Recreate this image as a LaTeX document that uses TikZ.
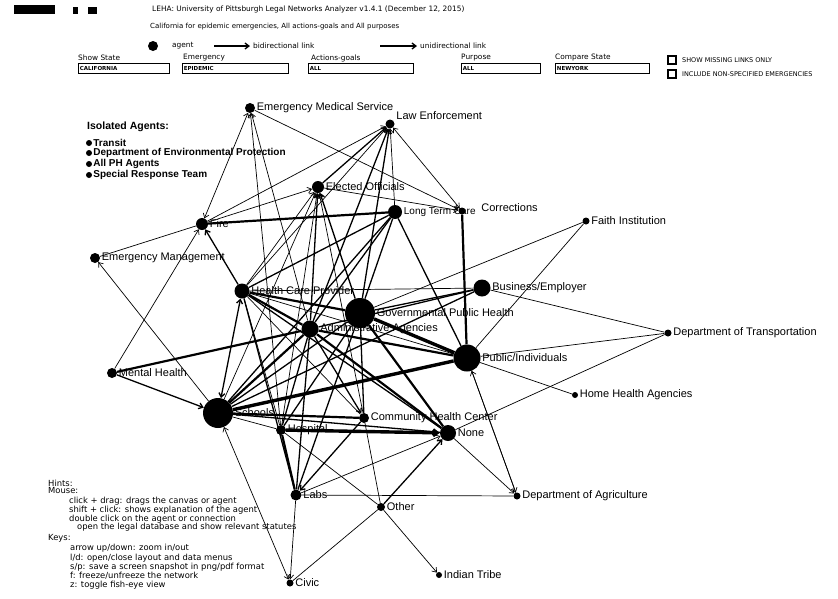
\documentclass[tikz,border=0pt]{standalone}
\usepackage{fontspec}
\setmainfont{Liberation Sans}
\newfontfamily\uifont{DejaVu Sans}
\usetikzlibrary{arrows.meta, backgrounds}

\begin{document}
\begin{tikzpicture}[x=1pt, y=-1pt, >={Straight Barb[length=4pt, width=6pt]},
  agent/.style={circle, fill=black, inner sep=0pt, minimum size=#1},
  tag/.style={font=\fontsize{11}{12}\selectfont, inner sep=1.5pt},
  iso/.style={font=\bfseries\fontsize{10}{10}\selectfont, inner sep=1pt},
  head/.style={font=\uifont\fontsize{7.4}{8}\selectfont, anchor=west, inner sep=0pt},
  hint/.style={font=\uifont\fontsize{8.4}{9}\selectfont, anchor=west, inner sep=0pt},
  menu/.style={draw, line width=0.8pt, anchor=west, inner sep=1.5pt, minimum height=10pt,
    text width=#1, align=left, font=\uifont\bfseries\fontsize{5.5}{6}\selectfont},
  checkbox/.style={draw, fill=white, line width=2pt, minimum size=7.5pt, inner sep=0pt},
  link/.style={line width=0.7pt},
  mlink/.style={line width=1.3pt},
  tlink/.style={line width=2.2pt},
  hlink/.style={line width=3.4pt}]
\useasboundingbox (0,0) rectangle (838,598);

% header
\node[fill=black, minimum width=41pt, minimum height=9pt, inner sep=0pt] (btnopt) at (34,9) {};
\node[fill=black, minimum width=5pt, minimum height=7pt, inner sep=0pt] (btnloada) at (75,10) {};
\node[fill=black, minimum width=9pt, minimum height=7pt, inner sep=0pt] (btnloadb) at (92,10) {};
\node[head] (title) at (152,9) {LEHA: University of Pittsburgh Legal Networks Analyzer v1.4.1 (December 12, 2015)};
\node[head, font=\uifont\fontsize{7}{8}\selectfont] (subtitle) at (150,27) {California for epidemic emergencies, All actions-goals and All purposes};

% legend
\node[agent=10pt] (keydot) at (153,46) {};
\node[head] (keyagent) at (172,46) {agent};
\coordinate (bistart) at (214,46);
\coordinate (biend) at (250,46);
\draw[mlink, ->] (bistart) -- (biend);
\node[head] (keybi) at (253,46) {bidirectional link};
\coordinate (unistart) at (380,46);
\coordinate (uniend) at (417,46);
\draw[mlink, ->] (unistart) -- (uniend);
\node[head] (keyuni) at (420,46) {unidirectional link};

% menus
\node[head] (hstate) at (78,58) {Show State};
\node[head] (hemerg) at (183,58) {Emergency};
\node[head] (hactions) at (311,58) {Actions-goals};
\node[head] (hpurpose) at (461,58) {Purpose};
\node[head] (hcompare) at (555,58) {Compare State};
\node[menu=88pt] (mstate) at (78,68) {CALIFORNIA};
\node[menu=103pt] (memerg) at (182,68) {EPIDEMIC};
\node[menu=102pt] (mactions) at (308,68) {ALL};
\node[menu=76pt] (mpurpose) at (461,68) {ALL};
\node[menu=91pt] (mcompare) at (555,68) {NEWYORK};
\node[checkbox] (cbmissing) at (672,60) {};
\node[head, font=\uifont\fontsize{6.5}{7}\selectfont] (tmissing) at (682,60) {SHOW MISSING LINKS ONLY};
\node[checkbox] (cbinclude) at (672,74) {};
\node[head, font=\uifont\fontsize{6.5}{7}\selectfont] (tinclude) at (682,74) {INCLUDE NON-SPECIFIED EMERGENCIES};

% isolated agents
\node[iso, anchor=west, font=\bfseries\fontsize{10.5}{11}\selectfont] (isotitle) at (86,127) {Isolated Agents:};
\node[agent=6pt, label={[iso]right:Transit}] (transit) at (89,143) {};
\node[agent=6pt, label={[iso]right:Department of Environmental Protection}] (envprot) at (89,153) {};
\node[agent=6pt, label={[iso]right:All PH Agents}] (allph) at (89,164) {};
\node[agent=6pt, label={[iso]right:Special Response Team}] (special) at (89,175) {};

% agents
\node[agent=10pt, label={[tag]right:Emergency Medical Service}] (ems) at (250,108) {};
\node[agent=9pt, label={[tag, yshift=8pt]right:Law Enforcement}] (law) at (390,124) {};
\node[agent=12pt, label={[tag]right:Elected Officials}] (elect) at (318,187) {};
\node[agent=14pt, label={[tag, font=\fontsize{10}{11}\selectfont]right:Long Term Care}] (ltc) at (395,212) {};
\node[agent=7pt, label={[tag, xshift=14pt, yshift=3pt]right:Corrections}] (corr) at (462,211) {};
\node[agent=12pt, label={[tag]right:Fire}] (fire) at (202,224) {};
\node[agent=10pt, label={[tag]right:Emergency Management}] (emgt) at (95,258) {};
\node[agent=7pt, label={[tag]right:Faith Institution}] (faith) at (586,221) {};
\node[agent=15pt, label={[tag]right:Health Care Provider}] (hcp) at (242,291) {};
\node[agent=30pt, label={[tag]right:Governmental Public Health}] (gph) at (360,313) {};
\node[agent=17pt, label={[tag]right:Administrative Agencies}] (admin) at (310,329) {};
\node[agent=17pt, label={[tag]right:Business/Employer}] (biz) at (482,288) {};
\node[agent=7pt, label={[tag]right:Department of Transportation}] (dot) at (668,333) {};
\node[agent=27pt, label={[tag]right:Public/Individuals}] (pub) at (467,358) {};
\node[agent=10pt, label={[tag]right:Mental Health}] (mental) at (112,373) {};
\node[agent=6pt, label={[tag]right:Home Health Agencies}] (home) at (575,395) {};
\node[agent=30pt, label={[tag]right:Schools}] (school) at (218,413) {};
\node[agent=10pt, label={[tag]right:Hospital}] (hosp) at (281,430) {};
\node[agent=10pt, label={[tag]right:Community Health Center}] (chc) at (364,418) {};
\node[agent=16pt, label={[tag]right:None}] (none) at (448,433) {};
\node[agent=11pt, label={[tag]right:Labs}] (labs) at (296,495) {};
\node[agent=8pt, label={[tag]right:Other}] (other) at (381,507) {};
\node[agent=7pt, label={[tag]right:Department of Agriculture}] (agri) at (517,496) {};
\node[agent=7pt, label={[tag]right:Civic}] (civic) at (290,583) {};
\node[agent=6pt, label={[tag]right:Indian Tribe}] (tribe) at (439,575) {};

% links
\begin{pgfonlayer}{background}
\draw[link, <->] (fire) -- (ems);
\draw[link, ->] (fire) -- (law);
\draw[link, ->] (ems) -- (corr);
\draw[link, ->] (hosp) -- (ems);
\draw[link, ->] (admin) -- (ems);
\draw[link, <->] (law) -- (corr);
\draw[mlink, ->] (elect) -- (law);
\draw[mlink, ->] (gph) -- (law);
\draw[mlink, ->] (admin) -- (law);
\draw[link, ->] (ltc) -- (law);
\draw[link, ->] (hcp) -- (law);
\draw[link, ->] (fire) -- (elect);
\draw[link, ->] (elect) -- (corr);
\draw[tlink] (fire) -- (ltc);
\draw[link] (emgt) -- (fire);
\draw[link, ->] (mental) -- (fire);
\draw[mlink, ->] (hcp) -- (fire);
\draw[link, ->] (school) -- (emgt);
\draw[mlink, ->] (mental) -- (school);
\draw[tlink] (mental) -- (admin);
\draw[mlink, <->] (hcp) -- (school);
\draw[link, ->] (school) -- (elect);
\draw[link, ->] (hcp) -- (elect);
\draw[mlink, ->] (admin) -- (elect);
\draw[mlink, ->] (gph) -- (elect);
\draw[link, ->] (hosp) -- (elect);
\draw[link, ->] (chc) -- (elect);
\draw[tlink] (hcp) -- (gph);
\draw[tlink] (hcp) -- (admin);
\draw[link] (hcp) -- (biz);
\draw[link] (hcp) -- (chc);
\draw[mlink] (hcp) -- (none);
\draw[link] (hcp) -- (pub);
\draw[mlink] (hcp) -- (labs);
\draw[link] (hcp) -- (hosp);
\draw[mlink] (ltc) -- (hcp);
\draw[mlink] (ltc) -- (school);
\draw[mlink] (ltc) -- (admin);
\draw[mlink] (ltc) -- (gph);
\draw[tlink] (corr) -- (pub);
\draw[mlink] (ltc) -- (pub);
\draw[mlink] (gph) -- (biz);
\draw[hlink] (gph) -- (pub);
\draw[mlink] (gph) -- (school);
\draw[mlink] (gph) -- (labs);
\draw[mlink] (gph) -- (hosp);
\draw[tlink] (gph) -- (none);
\draw[mlink] (gph) -- (chc);
\draw[tlink] (admin) -- (pub);
\draw[tlink] (admin) -- (school);
\draw[tlink] (admin) -- (none);
\draw[mlink, ->] (admin) -- (chc);
\draw[mlink] (admin) -- (labs);
\draw[mlink] (admin) -- (hosp);
\draw[mlink] (biz) -- (admin);
\draw[mlink] (biz) -- (school);
\draw[hlink] (school) -- (pub);
\draw[tlink] (school) -- (chc);
\draw[mlink] (school) -- (none);
\draw[link] (school) -- (hosp);
\draw[hlink, ->] (hosp) -- (none);
\draw[tlink] (hosp) -- (labs);
\draw[link] (hosp) -- (other);
\draw[link] (labs) -- (agri);
\draw[link, ->] (labs) -- (civic);
\draw[mlink, ->] (chc) -- (labs);
\draw[link, ->] (labs) -- (none);
\draw[link, ->] (other) -- (tribe);
\draw[link] (civic) -- (other);
\draw[mlink, ->] (other) -- (none);
\draw[link] (other) -- (chc);
\draw[link, ->] (none) -- (agri);
\draw[link, ->] (pub) -- (agri);
\draw[link, ->] (agri) -- (pub);
\draw[link] (dot) -- (biz);
\draw[link] (dot) -- (pub);
\draw[link] (dot) -- (none);
\draw[link] (faith) -- (gph);
\draw[link] (faith) -- (pub);
\draw[link] (pub) -- (home);
\draw[link, <->] (school) -- (civic);
\end{pgfonlayer}

% hints
\node[hint] (hints) at (48,483) {Hints:};
\node[hint] (hmouse) at (48,490) {Mouse:};
\node[hint] (hdrag) at (69,501) {click + drag: drags the canvas or agent};
\node[hint] (hshift) at (69,510) {shift + click: shows explanation of the agent};
\node[hint] (hdouble) at (69,519) {double click on the agent or connection};
\node[hint] (hopen) at (77,527) {open the legal database and show relevant statutes};
\node[hint] (hkeys) at (48,538) {Keys:};
\node[hint] (hzoom) at (70,548) {arrow up/down: zoom in/out};
\node[hint] (hmenus) at (70,558) {l/d: open/close layout and data menus};
\node[hint] (hsave) at (70,567) {s/p: save a screen snapshot in png/pdf format};
\node[hint] (hfreeze) at (70,576) {f: freeze/unfreeze the network};
\node[hint] (hfish) at (70,585) {z: toggle fish-eye view};
\end{tikzpicture}
\end{document}
